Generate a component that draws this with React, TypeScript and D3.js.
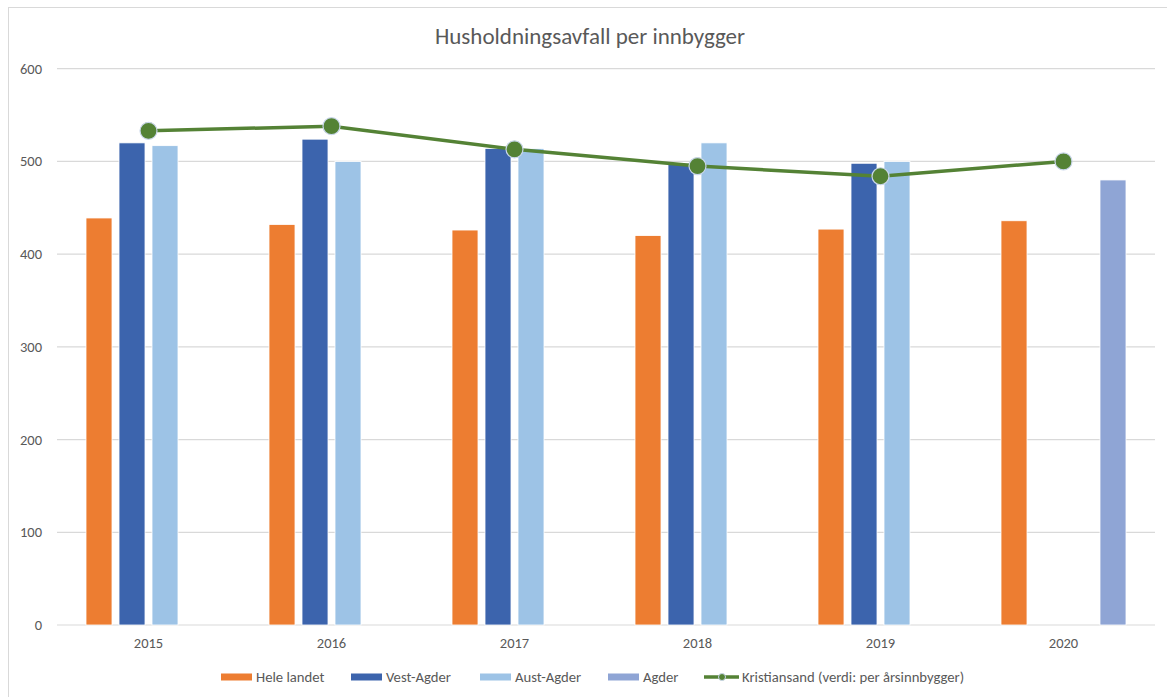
import React from 'react';
import * as d3 from 'd3';

const years = ['2015', '2016', '2017', '2018', '2019', '2020'];
const heleLandet = [439, 432, 426, 420, 427, 436];
const vestAgder = [520, 524, 514, 498, 498, null];
const austAgder = [517, 500, 514, 520, 500, null];
const agder = [null, null, null, null, null, 480];
const kristiansand = [533, 538, 513, 495, 484, 500];
const yTicks = [0, 100, 200, 300, 400, 500, 600];

const barSeries = [
  { name: 'Hele landet', values: heleLandet, color: '#ED7D31' },
  { name: 'Vest-Agder', values: vestAgder, color: '#3C64AD' },
  { name: 'Aust-Agder', values: austAgder, color: '#9DC3E6' },
  { name: 'Agder', values: agder, color: '#8FA5D5' },
];
const lineName = 'Kristiansand (verdi: per årsinnbygger)';
const lineColor = '#548235';

const W = 1167;
const H = 697;
const font = "Carlito, 'Open Sans', 'Liberation Sans', sans-serif";
const textColor = '#595959';

const App = () => {
  const left = 57;
  const right = 1155;
  const top = 68.7;
  const bottom = 625;

  const x = d3.scaleBand<string>().domain(years).range([left, right]).padding(0);
  const groupWidth = 125;
  const inner = d3
    .scaleBand<string>()
    .domain(barSeries.map(s => s.name))
    .range([0, groupWidth])
    .paddingInner(0.212)
    .paddingOuter(0);
  const groupOffset = (x.bandwidth() - groupWidth) / 2;

  const y = d3.scaleLinear().domain([0, 600]).range([bottom, top]);

  const line = d3
    .line<number>()
    .x((d, i) => (x(years[i]) as number) + x.bandwidth() / 2)
    .y(d => y(d));

  // legend layout
  const legendY = 677;
  const legendItems = [
    { name: 'Hele landet', color: '#ED7D31', sx: 221, kind: 'bar' },
    { name: 'Vest-Agder', color: '#3C64AD', sx: 351, kind: 'bar' },
    { name: 'Aust-Agder', color: '#9DC3E6', sx: 480, kind: 'bar' },
    { name: 'Agder', color: '#8FA5D5', sx: 608, kind: 'bar' },
    { name: lineName, color: lineColor, sx: 704, kind: 'line' },
  ];

  return (
    <svg width={W} height={H} style={{ position: 'absolute', left: 0, top: 0 }}>
      <rect x={0} y={0} width={W} height={H} fill="#fff" />
      <rect x={8.5} y={7.5} width={W} height={H} fill="#fff" stroke="#d9d9d9" strokeWidth={1} />
      <text
        x={590}
        y={44}
        textAnchor="middle"
        fontFamily={font}
        fontSize={23}
        fill={textColor}
      >
        Husholdningsavfall per innbygger
      </text>

      {yTicks.map(t => (
        <g key={t}>
          <line x1={left} x2={right} y1={y(t)} y2={y(t)} stroke="#d9d9d9" strokeWidth={1.2} />
          <text
            x={42}
            y={y(t)}
            dy="0.35em"
            textAnchor="end"
            fontFamily={font}
            fontSize={14.5}
            fill={textColor}
          >
            {t}
          </text>
        </g>
      ))}

      {barSeries.map(s => (
        <g key={s.name}>
          {s.values.map((v, i) =>
            v == null ? null : (
              <rect
                key={i}
                x={(x(years[i]) as number) + groupOffset + (inner(s.name) as number)}
                y={y(v)}
                width={inner.bandwidth()}
                height={y(0) - y(v)}
                fill={s.color}
                stroke="#fff"
                strokeWidth={0.8}
              />
            )
          )}
        </g>
      ))}

      {years.map(yr => (
        <text
          key={yr}
          x={(x(yr) as number) + x.bandwidth() / 2}
          y={648}
          textAnchor="middle"
          fontFamily={font}
          fontSize={14.5}
          fill={textColor}
        >
          {yr}
        </text>
      ))}

      <path d={line(kristiansand) || ''} fill="none" stroke={lineColor} strokeWidth={3.5} />
      {kristiansand.map((v, i) => (
        <circle
          key={i}
          cx={(x(years[i]) as number) + x.bandwidth() / 2}
          cy={y(v)}
          r={8.5}
          fill={lineColor}
          stroke="#c9d6ea"
          strokeWidth={1.2}
        />
      ))}

      {legendItems.map(it => (
        <g key={it.name}>
          {it.kind === 'bar' ? (
            <rect x={it.sx} y={legendY - 3.5} width={31} height={7} fill={it.color} />
          ) : (
            <g>
              <line
                x1={it.sx}
                x2={it.sx + 35}
                y1={legendY}
                y2={legendY}
                stroke={it.color}
                strokeWidth={3.5}
              />
              <circle cx={it.sx + 18} cy={legendY} r={3.5} fill={it.color} stroke="#c9d6ea" strokeWidth={1} />
            </g>
          )}
          <text
            x={it.sx + (it.kind === 'bar' ? 35 : 38)}
            y={legendY}
            dy="0.35em"
            fontFamily={font}
            fontSize={14.7}
            fill={textColor}
          >
            {it.name}
          </text>
        </g>
      ))}
    </svg>
  );
};

export default App;
